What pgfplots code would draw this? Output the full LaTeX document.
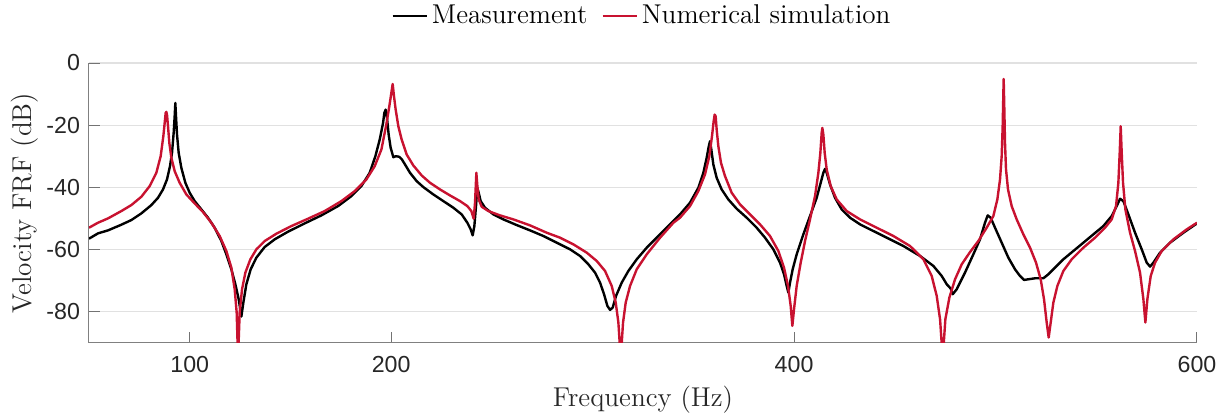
\documentclass[border=0pt]{standalone}
\usepackage{fontspec}
\usepackage{pgfplots}
\pgfplotsset{compat=1.18}
\newfontfamily\ticksf{Liberation Sans}
\definecolor{simred}{RGB}{200,18,48}
\definecolor{tickgray}{RGB}{38,38,38}
\definecolor{gridgray}{RGB}{225,225,225}

\begin{document}
\begin{tikzpicture}
\useasboundingbox (-44.5pt,-37pt) rectangle (571.5pt,171.5pt);
\begin{axis}[
  scale only axis,
  width=554pt, height=140pt,
  xmin=50, xmax=600, ymin=-90, ymax=0,
  xtick={100,200,400,600},
  ytick={-80,-60,-40,-20,0},
  axis lines*=left,
  axis line style={black!50, line width=0.5pt},
  tick style={black!55, line width=0.5pt},
  major tick length=5.5pt,
  tick align=inside,
  ymajorgrids,
  grid style={gridgray, line width=0.6pt},
  /pgf/number format/assume math mode=true,
  ticklabel style={font=\ticksf\fontsize{11.6}{13.5}\selectfont, text=tickgray},
  xticklabel style={yshift=-3.2pt},
  yticklabel style={xshift=-1pt},
  xlabel={Frequency (Hz)},
  ylabel={Velocity FRF (dB)},
  every axis x label/.style={at={(axis description cs:0.5,-0.2036)}, anchor=center},
  every axis y label/.style={at={(axis description cs:-0.0578,0.5)}, rotate=90, anchor=center},
  label style={font=\fontsize{13.6}{16}\selectfont, text=black!85},
  legend columns=2,
  legend style={at={(0.5,1)}, anchor=center, yshift=23.5pt, draw=none, fill=none,
    font=\fontsize{13.6}{16}\selectfont, inner sep=0pt,
    /tikz/every even column/.append style={column sep=5pt}},
  legend image code/.code={\draw[#1] (0pt,0pt) -- (17pt,0pt);},
  clip=true,
]
% Measurement
\addplot[black, line width=1.2pt, line join=round] coordinates {
(50,-56.47)(54.47,-54.76)(59.43,-53.8)(66.05,-51.98)(71.02,-50.48)(75.98,-48.34)
(80.95,-45.67)(84.26,-43.32)(86.74,-40.64)(88.72,-37.43)(90.21,-33.16)(91.21,-28.88)
(92.03,-22.46)(92.53,-17.11)(92.86,-12.83)(93.19,-17.11)(93.69,-22.99)(94.52,-28.88)
(95.84,-33.69)(97.83,-38.5)(99.98,-41.71)(102.46,-44.39)(105.77,-47.06)(109.08,-49.73)
(112.39,-52.94)(115.7,-57.22)(118.18,-61.5)(120.67,-66.31)(122.65,-71.12)(124.31,-75.94)
(125.63,-81.5)(126.62,-77.0)(128.11,-71.12)(130.26,-66.31)(133.08,-62.57)(137.22,-59.14)
(142.18,-56.68)(148.8,-54.22)(157.08,-51.55)(165.35,-48.98)(173.63,-45.99)(180.25,-42.78)
(185.21,-39.57)(189.35,-35.29)(192.16,-29.95)(194.31,-24.6)(195.97,-19.25)
(196.6,-16.04)(197.26,-14.97)(197.93,-17.65)(198.75,-22.99)(199.75,-27.27)(201.07,-30.27)
(202.39,-29.95)(204.05,-30.16)(205.37,-31.02)(206.86,-32.62)(209.35,-35.29)(212.66,-37.97)
(215.97,-39.89)(220.93,-42.25)(225.9,-44.39)(230.86,-46.52)(235.0,-48.66)(237.81,-51.34)
(239.47,-53.48)(240.46,-55.4)(241.29,-52.41)(242.11,-45.99)(242.78,-40.11)(243.44,-41.71)
(244.43,-44.39)(246.58,-46.52)(250.72,-48.66)(255.69,-50.27)(262.3,-52.09)(268.93,-53.8)
(275.55,-55.61)(282.17,-57.75)(288.79,-59.89)(293.75,-62.03)(297.89,-64.71)(301.2,-67.38)
(303.68,-70.59)(305.67,-74.33)(307.32,-78.07)(308.65,-79.36)(309.97,-78.61)(311.62,-74.87)
(314.44,-70.59)(317.75,-66.84)(321.89,-63.1)(326.85,-59.36)(333.47,-55.08)(340.09,-50.8)
(343.37,-48.66)(348.33,-44.92)(352.47,-40.11)(354.95,-35.29)(356.61,-30.48)(357.6,-26.95)
(358.26,-25.13)(358.92,-27.81)(359.92,-32.62)(361.57,-36.9)(364.05,-40.64)(367.36,-43.85)
(371.5,-46.84)(376.47,-49.73)(381.43,-52.94)(385.57,-56.15)(389.71,-59.89)(393.02,-64.17)
(395.0,-67.91)(396.33,-71.66)(397.15,-73.8)(397.98,-70.59)(399.3,-66.31)(401.29,-61.5)
(404.6,-55.08)(407.91,-49.2)(411.22,-43.32)(413.21,-38.5)(414.53,-35.29)(415.36,-34.01)
(416.19,-35.29)(417.84,-39.04)(420.32,-43.32)(423.63,-47.06)(427.77,-49.73)(432.74,-51.87)
(439.36,-54.01)(445.98,-56.15)(454.25,-58.82)(462.53,-62.03)(469.15,-65.24)(473.28,-68.45)
(475.77,-71.12)(477.75,-72.51)(478.74,-74.33)(480.73,-72.73)(481.53,-71.66)(484.84,-67.38)
(488.98,-61.5)(492.29,-56.68)(494.77,-51.34)(496.1,-48.98)(497.59,-49.73)(499.74,-52.94)
(503.05,-57.75)(506.36,-62.57)(509.67,-66.31)(512.15,-68.45)(514.14,-69.73)(516.29,-69.52)
(519.6,-69.2)(523.74,-69.2)(526.22,-67.91)(529.53,-65.78)(533.67,-63.1)(538.63,-60.43)
(543.6,-57.75)(548.56,-55.08)(553.53,-52.41)(557.66,-49.2)(560.15,-45.99)(561.8,-43.64)
(563.46,-44.39)(565.94,-48.66)(569.25,-54.55)(572.56,-59.89)(575.04,-64.17)(576.7,-65.45)
(578.35,-64.17)(581.66,-60.96)(586.63,-57.75)(593.25,-54.55)(600,-51.55)
};
\addlegendentry{Measurement}
% Numerical simulation
\addplot[simred, line width=1.2pt, line join=round] coordinates {
(50,-52.94)(54.47,-51.34)(59.43,-49.95)(66.05,-47.59)(71.02,-45.67)(75.98,-43.0)
(80.12,-39.57)(83.43,-35.29)(85.58,-29.95)(86.9,-23.53)(87.57,-19.25)(88.06,-16.04)
(88.39,-15.72)(88.72,-16.58)(89.22,-20.32)(89.88,-25.67)(90.88,-30.48)(92.53,-34.76)
(95.01,-38.5)(98.32,-42.25)(102.46,-45.13)(106.6,-47.91)(110.74,-51.34)(114.87,-55.61)
(118.18,-60.43)(120.67,-65.78)(122.32,-72.73)(123.31,-80.21)(123.98,-95)(124.8,-80.21)
(125.96,-72.73)(127.62,-67.38)(130.1,-63.1)(133.08,-59.89)(137.22,-57.22)(143.01,-54.87)
(150.46,-52.41)(158.73,-50.05)(167.01,-47.59)(175.28,-44.39)(181.9,-41.18)(187.69,-37.43)
(191.83,-33.16)(195.14,-27.81)(197.59,-19.79)(199.08,-13.9)(200.08,-9.63)(200.74,-6.74)
(201.4,-10.7)(202.23,-14.97)(203.55,-20.32)(205.21,-24.6)(207.69,-29.41)(211.0,-32.94)
(215.14,-36.15)(219.28,-38.5)(224.24,-40.64)(229.21,-42.57)(234.17,-44.39)(237.81,-45.99)
(239.8,-47.59)(240.96,-50.05)(241.62,-44.92)(242.28,-35.29)(242.78,-39.57)(243.44,-43.85)
(244.93,-46.2)(248.24,-47.59)(254.03,-48.98)(260.65,-50.27)(268.93,-52.19)(277.2,-54.55)
(283.82,-56.15)(290.44,-58.29)(297.06,-60.96)(302.03,-63.64)(306.16,-66.84)(309.47,-71.66)
(311.46,-77.0)(312.78,-83.42)(313.94,-95)(315.1,-83.42)(316.42,-77.0)(318.58,-71.66)
(321.89,-66.31)(326.85,-61.5)(333.47,-56.15)(340.09,-51.34)(343.37,-49.73)(348.33,-45.99)
(352.47,-41.18)(355.78,-35.83)(357.93,-29.95)(359.25,-23.53)(360.08,-18.72)(360.58,-16.58)
(361.07,-17.11)(361.57,-21.39)(362.4,-26.74)(363.72,-32.09)(365.71,-36.36)(369.02,-41.71)
(373.16,-45.45)(378.12,-48.66)(383.09,-51.87)(388.05,-55.61)(392.19,-60.43)(395.0,-65.78)
(396.99,-71.66)(398.31,-78.07)(399.14,-84.49)(399.97,-79.14)(401.29,-71.66)(403.28,-64.17)
(405.43,-57.22)(407.91,-50.27)(410.39,-42.78)(412.05,-35.29)(413.04,-28.88)(413.7,-22.46)
(414.03,-20.86)(414.53,-22.99)(415.19,-28.88)(416.19,-34.22)(418.17,-39.57)(421.15,-43.85)
(426.12,-47.59)(432.74,-50.27)(441.01,-52.94)(449.29,-55.61)(457.56,-58.82)(464.18,-63.1)
(468.32,-68.45)(470.8,-74.87)(472.46,-82.35)(473.78,-95)(475.1,-82.35)(477.09,-75.4)
(479.9,-69.52)(483.21,-64.71)(487.35,-60.75)(491.46,-57.22)(495.6,-52.94)(498.91,-49.2)
(500.9,-43.85)(502.22,-37.43)(503.05,-29.95)(503.54,-20.32)(503.88,-9.63)(504.04,-5.13)
(504.37,-14.97)(504.7,-25.67)(505.2,-34.22)(506.19,-40.64)(508.01,-45.99)(510.5,-50.27)
(513.81,-55.08)(517.12,-59.36)(520.09,-64.17)(522.41,-69.52)(524.07,-75.94)(525.39,-83.42)
(526.38,-88.24)(527.38,-83.42)(528.7,-77.0)(530.69,-71.66)(533.67,-66.84)(537.8,-63.1)
(543.6,-59.36)(549.39,-56.15)(554.35,-52.94)(557.66,-50.27)(559.81,-45.99)(560.97,-38.5)
(561.63,-28.88)(562.13,-20.32)(562.63,-28.88)(563.29,-38.5)(564.45,-47.06)(566.77,-54.55)
(569.25,-60.43)(571.73,-67.38)(573.39,-75.94)(574.38,-83.42)(575.37,-75.94)(577.03,-68.45)
(579.18,-64.17)(582.49,-60.43)(588.28,-56.68)(594.9,-53.48)(600,-51.34)
};
\addlegendentry{Numerical simulation}
\end{axis}
\end{tikzpicture}
\end{document}
